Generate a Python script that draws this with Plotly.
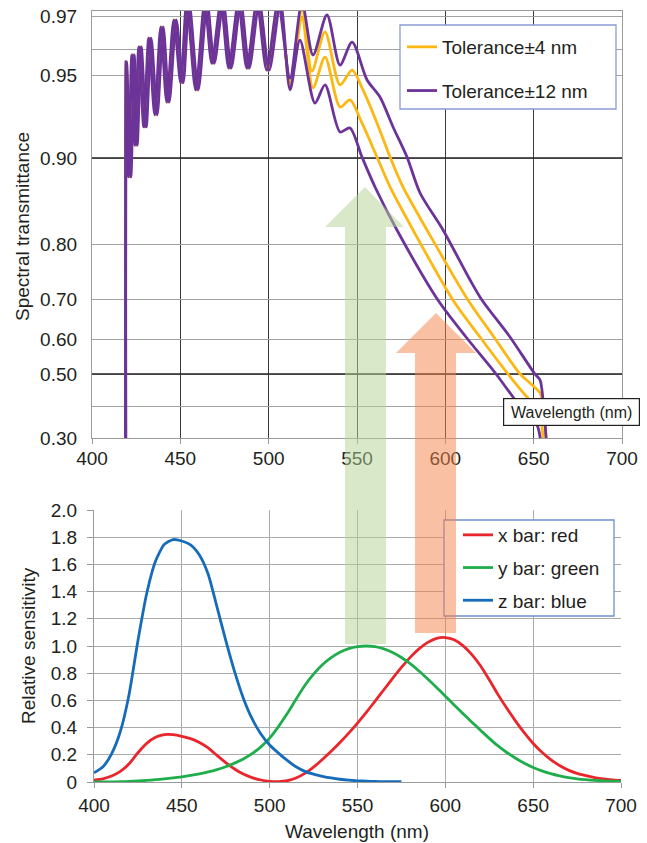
import numpy as np
import plotly.graph_objects as go

W, H = 647, 843
FONT = "Liberation Sans, Arial, sans-serif"
TXT = "#231f20"

# ---------------- Top panel: spectral transmittance ----------------
tol4_upper_nm = [419.0, 419.4, 421.3, 423.2, 424.9, 427.2, 430.0, 432.8, 436.2, 439.6, 443.0, 447.0,
                 450.9, 454.3, 459.4, 464.5, 468.5, 473.6, 478.1, 483.5, 488.3, 494.0, 499.6, 506.0,
                 512.1, 518.9, 524.5, 531.9, 540.4, 547.2, 553.4, 561.3, 568.7, 576.0, 589.6, 612.8,
                 627.5, 642.3, 647.9, 653.6, 655.5, 657.0, 657.5]
tol4_upper_T = [0.25, 0.955, 0.878, 0.9577, 0.9078, 0.9606, 0.9187, 0.9633, 0.9259, 0.9667, 0.9337, 0.9688,
                0.9452, 0.974, 0.941, 0.974, 0.9545, 0.974, 0.9527, 0.974, 0.9527, 0.974, 0.9519, 0.974,
                0.9458, 0.972, 0.9515, 0.9652, 0.944, 0.9519, 0.941, 0.9211, 0.9006, 0.8663, 0.8163, 0.6975,
                0.605, 0.50, 0.472, 0.4406, 0.40, 0.303, 0.25]

tol4_lower_nm = [419.0, 419.4, 421.3, 423.2, 424.9, 427.2, 430.0, 432.8, 436.2, 439.6, 443.0, 447.0,
                 450.9, 454.3, 459.4, 464.5, 468.5, 473.6, 478.1, 483.5, 488.3, 494.0, 499.6, 506.0,
                 512.1, 518.9, 525.1, 531.9, 540.4, 546.0, 552.8, 561.3, 568.7, 581.7, 604.3, 619.6,
                 635.5, 646.2, 651.9, 654.1, 655.3, 655.6]
tol4_lower_T = [0.25, 0.955, 0.878, 0.9577, 0.9078, 0.9606, 0.9187, 0.9633, 0.9259, 0.9667, 0.9337, 0.9688,
                0.9452, 0.974, 0.941, 0.974, 0.9545, 0.974, 0.9527, 0.974, 0.9527, 0.974, 0.9519, 0.974,
                0.9434, 0.9694, 0.9422, 0.9569, 0.9307, 0.935, 0.9211, 0.9006, 0.8663, 0.8163, 0.6975, 0.605,
                0.50, 0.4281, 0.394, 0.356, 0.303, 0.25]

tol12_upper_nm = [418.9, 419.2, 420.6, 422.5, 424.2, 426.5, 429.3, 432.1, 435.5, 438.9, 442.3, 446.3,
                  450.2, 453.6, 458.7, 463.8, 467.8, 472.9, 477.4, 482.8, 487.6, 493.3, 498.9, 505.3,
                  512.1, 518.9, 525.1, 533.0, 540.4, 547.2, 555.7, 563.0, 570.4, 578.3, 585.7, 598.7,
                  614.0, 620.7, 636.6, 650.7, 653.6, 655.3, 657.0, 657.5]
tol12_upper_T = [0.25, 0.955, 0.878, 0.9577, 0.9078, 0.9606, 0.9187, 0.9633, 0.9259, 0.9667, 0.9337, 0.9688,
                 0.9452, 0.974, 0.941, 0.974, 0.9545, 0.974, 0.9527, 0.974, 0.9527, 0.974, 0.9519, 0.974,
                 0.9482, 0.974, 0.9577, 0.9703, 0.9538, 0.9621, 0.947, 0.9367, 0.9187, 0.9006, 0.8593, 0.8163,
                 0.7345, 0.6975, 0.605, 0.50, 0.4813, 0.4188, 0.303, 0.25]

tol12_lower_nm = [419.2, 419.6, 422.0, 423.9, 425.6, 427.9, 430.7, 433.5, 436.9, 440.3, 443.7, 447.7,
                  451.6, 455.0, 460.1, 465.2, 469.2, 474.3, 478.8, 484.2, 489.0, 494.7, 500.3, 506.7,
                  512.1, 517.7, 526.2, 531.9, 540.4, 546.0, 552.8, 560.2, 572.6, 595.8, 611.7, 628.7,
                  638.3, 645.1, 651.9, 653.6, 654.0]
tol12_lower_T = [0.25, 0.955, 0.878, 0.9577, 0.9078, 0.9606, 0.9187, 0.9633, 0.9259, 0.9667, 0.9337, 0.9688,
                 0.9452, 0.974, 0.941, 0.974, 0.9545, 0.974, 0.9527, 0.974, 0.9527, 0.974, 0.9519, 0.974,
                 0.941, 0.9627, 0.9331, 0.944, 0.9157, 0.9181, 0.9006, 0.8663, 0.8163, 0.6975, 0.605, 0.50,
                 0.4281, 0.381, 0.34, 0.303, 0.25]

top_x_ticks = [400, 450, 500, 550, 600, 650, 700]
top_y_ticks = [0.30, 0.40, 0.50, 0.60, 0.70, 0.80, 0.90, 0.95, 0.96, 0.97]
top_y_labels = ["0.30", "", "0.50", "0.60", "0.70", "0.80", "0.90", "0.95", "", "0.97"]
top_y_bold = [0.90, 0.50]

# ---------------- Bottom panel: CIE colour-matching functions ----------------
cmf_nm = [400, 405, 410, 415, 420, 425, 430, 435, 440, 445, 450, 455, 460, 465, 470, 475, 480, 485,
          490, 495, 500, 505, 510, 515, 520, 525, 530, 535, 540, 545, 550, 555, 560, 565, 570, 575,
          580, 585, 590, 595, 600, 605, 610, 615, 620, 625, 630, 635, 640, 645, 650, 655, 660, 665,
          670, 675, 680, 685, 690, 695, 700]
x_bar = [0.0143, 0.0232, 0.0435, 0.0776, 0.1344, 0.2148, 0.2839, 0.3285, 0.3483, 0.3481, 0.3362, 0.3187,
         0.2908, 0.2511, 0.1954, 0.1421, 0.0956, 0.0580, 0.0320, 0.0147, 0.0049, 0.0024, 0.0093, 0.0291,
         0.0633, 0.1096, 0.1655, 0.2258, 0.2904, 0.3597, 0.4335, 0.5121, 0.5945, 0.6784, 0.7621, 0.8425,
         0.9163, 0.9786, 1.0263, 1.0567, 1.0622, 1.0456, 1.0026, 0.9384, 0.8545, 0.7514, 0.6424, 0.5419,
         0.4479, 0.3608, 0.2835, 0.2187, 0.1649, 0.1212, 0.0874, 0.0636, 0.0468, 0.0329, 0.0227, 0.0158,
         0.0114]
y_bar = [0.0004, 0.0006, 0.0012, 0.0022, 0.0040, 0.0073, 0.0116, 0.0168, 0.0230, 0.0298, 0.0380, 0.0480,
         0.0600, 0.0739, 0.0910, 0.1126, 0.1390, 0.1693, 0.2080, 0.2586, 0.3230, 0.4073, 0.5030, 0.6082,
         0.7100, 0.7932, 0.8620, 0.9149, 0.9540, 0.9803, 0.9950, 1.0000, 0.9950, 0.9786, 0.9520, 0.9154,
         0.8700, 0.8163, 0.7570, 0.6949, 0.6310, 0.5668, 0.5030, 0.4412, 0.3810, 0.3210, 0.2650, 0.2170,
         0.1750, 0.1382, 0.1070, 0.0816, 0.0610, 0.0446, 0.0320, 0.0232, 0.0170, 0.0119, 0.0082, 0.0057,
         0.0041]
z_nm = [400, 405, 410, 415, 420, 425, 430, 435, 440, 445, 450, 455, 460, 465, 470, 475, 480, 485,
        490, 495, 500, 505, 510, 515, 520, 525, 530, 535, 540, 545, 550, 555, 560, 565, 570, 575]
z_bar = [0.0679, 0.1102, 0.2074, 0.3713, 0.6456, 1.0391, 1.3856, 1.6230, 1.7471, 1.7826, 1.7721, 1.7441,
         1.6692, 1.5281, 1.2876, 1.0419, 0.8130, 0.6162, 0.4652, 0.3533, 0.2720, 0.2123, 0.1582, 0.1117,
         0.0783, 0.0573, 0.0422, 0.0298, 0.0203, 0.0134, 0.0088, 0.0058, 0.0039, 0.0028, 0.0021, 0.0018]
bottom_x_ticks = [400, 450, 500, 550, 600, 650, 700]
bottom_y_ticks = [0, 0.2, 0.4, 0.6, 0.8, 1.0, 1.2, 1.4, 1.6, 1.8, 2.0]
bottom_y_labels = ["0", "0.2", "0.4", "0.6", "0.8", "1.0", "1.2", "1.4", "1.6", "1.8", "2.0"]

# Non-linear transmittance scale of the original chart (value -> axis position)
SCALE_T = [0.25, 0.30, 0.40, 0.50, 0.60, 0.70, 0.80, 0.90, 0.95, 0.96, 0.97, 0.98]
SCALE_POS = [-16, 0, 32, 64, 99, 139, 194, 280, 363, 389, 422, 455]


def tpos(v):
    return np.interp(np.asarray(v, dtype=float), SCALE_T, SCALE_POS)


def px(x, y):
    return x / W, 1 - y / H


YELLOW = "#fbb814"
PURPLE = "#6c3399"
RED = "#e8262b"
GREEN = "#1fae4b"
BLUE = "#166cb8"
FS = 19

fig = go.Figure()

# bold reference lines of the top panel
for v in top_y_bold:
    fig.add_trace(go.Scatter(x=[400, 700], y=[float(tpos(v))] * 2, mode="lines",
                             line=dict(color=TXT, width=1.6), showlegend=False, hoverinfo="skip",
                             xaxis="x", yaxis="y"))

top_series = [
    (tol4_upper_nm, tol4_upper_T, YELLOW, "Tolerance±4 nm", True, "g4"),
    (tol4_lower_nm, tol4_lower_T, YELLOW, "Tolerance±4 nm", False, "g4"),
    (tol12_upper_nm, tol12_upper_T, PURPLE, "Tolerance±12 nm", True, "g12"),
    (tol12_lower_nm, tol12_lower_T, PURPLE, "Tolerance±12 nm", False, "g12"),
]
for xs, ts, col, name, show, grp in top_series:
    fig.add_trace(go.Scatter(x=xs, y=tpos(ts), mode="lines", name=name, legendgroup=grp,
                             showlegend=show, legend="legend",
                             line=dict(color=col, width=2.8, shape="spline", smoothing=0.8),
                             xaxis="x", yaxis="y"))

for xs, ys, col, name, grp in [(cmf_nm, x_bar, RED, "x bar: red", "r"),
                               (cmf_nm, y_bar, GREEN, "y bar: green", "gr"),
                               (z_nm, z_bar, BLUE, "z bar: blue", "b")]:
    fig.add_trace(go.Scatter(x=xs, y=ys, mode="lines", name=name, legendgroup=grp, legend="legend2",
                             line=dict(color=col, width=2.8, shape="spline", smoothing=0.6),
                             xaxis="x2", yaxis="y2"))

top_dom_x = [92 / W, 622 / W]
top_dom_y = [1 - 438 / H, 1 - 11 / H]
bot_dom_x = [94 / W, 621 / W]
bot_dom_y = [1 - 782 / H, 1 - 510 / H]

tickfont = dict(family=FONT, size=FS, color=TXT)

fig.update_layout(
    width=W, height=H, autosize=False,
    margin=dict(l=0, r=0, t=0, b=0, pad=0, autoexpand=False),
    paper_bgcolor="white", plot_bgcolor="white",
    font=dict(family=FONT, size=FS, color=TXT),
    xaxis=dict(domain=top_dom_x, range=[400, 700], anchor="y", tickvals=top_x_ticks,
               showgrid=True, gridcolor="#3a3a3a", gridwidth=1, automargin=False,
               showline=True, linecolor="#9a9a9a", linewidth=1.2, mirror=True,
               ticks="outside", ticklen=5, tickcolor="#9a9a9a", tickfont=tickfont,
               ticklabelstandoff=-2, zeroline=False),
    yaxis=dict(domain=top_dom_y, range=[0, 427], anchor="x", automargin=False,
               tickvals=list(tpos(top_y_ticks)), ticktext=top_y_labels,
               showgrid=True, gridcolor="#a3a3a3", gridwidth=1.2,
               showline=True, linecolor="#9a9a9a", linewidth=1.2, mirror=True,
               ticks="", tickfont=tickfont, ticklabelstandoff=10, zeroline=False),
    xaxis2=dict(domain=bot_dom_x, range=[400, 700], anchor="y2", tickvals=bottom_x_ticks,
                showgrid=True, gridcolor="#ababab", gridwidth=1, automargin=False,
                showline=True, linecolor="#9a9a9a", linewidth=1.2,
                ticks="outside", ticklen=5, tickcolor="#9a9a9a", tickfont=tickfont,
                ticklabelstandoff=1, zeroline=False),
    yaxis2=dict(domain=bot_dom_y, range=[0, 2.0], anchor="x2", automargin=False,
                tickvals=bottom_y_ticks, ticktext=bottom_y_labels,
                showgrid=True, gridcolor="#ababab", gridwidth=1,
                showline=True, linecolor="#9a9a9a", linewidth=1.2,
                ticks="outside", ticklen=6, tickcolor="#9a9a9a", tickfont=tickfont,
                ticklabelstandoff=6, zeroline=False),
    legend=dict(x=402 / W, y=1 - 28 / H, xanchor="left", yanchor="top",
                bgcolor="rgba(0,0,0,0)", borderwidth=0, traceorder="grouped",
                tracegroupgap=16, font=dict(family=FONT, size=FS, color=TXT)),
    legend2=dict(x=458 / W, y=1 - 516 / H, xanchor="left", yanchor="top",
                 bgcolor="rgba(0,0,0,0)", borderwidth=0, traceorder="grouped",
                 tracegroupgap=5, font=dict(family=FONT, size=FS, color=TXT)),
)

shapes = []
# legend frames
x0, y1 = px(400, 25)
x1, y0 = px(616, 109)
shapes.append(dict(type="rect", xref="paper", yref="paper", x0=x0, x1=x1, y0=y0, y1=y1,
                   line=dict(color="#8d9bd6", width=1.3), fillcolor="white", layer="above"))
x0, y1 = px(444, 520)
x1, y0 = px(614, 616)
shapes.append(dict(type="rect", xref="paper", yref="paper", x0=x0, x1=x1, y0=y0, y1=y1,
                   line=dict(color="#6f8fd0", width=1.3), fillcolor="white", layer="above"))


def arrow_path(sl, sr, bottom, hl, hr, hy, tip_x, tip_y):
    pts = [(sl, bottom), (sl, hy), (hl, hy), (tip_x, tip_y), (hr, hy), (sr, hy), (sr, bottom)]
    p = []
    for i, (a, b) in enumerate(pts):
        u, v = px(a, b)
        p.append(("M" if i == 0 else "L") + f"{u:.5f},{v:.5f}")
    return " ".join(p) + " Z"


shapes.append(dict(type="path", xref="paper", yref="paper",
                   path=arrow_path(345, 386, 644, 325, 404, 227, 365, 187),
                   fillcolor="#b3d193", line=dict(width=0), opacity=0.5, layer="above"))
shapes.append(dict(type="path", xref="paper", yref="paper",
                   path=arrow_path(415, 456, 633, 396, 476, 353, 436, 313),
                   fillcolor="#f38147", line=dict(width=0), opacity=0.5, layer="above"))
fig.update_layout(shapes=shapes)

ann = []
ax, ay = px(22, 227)
ann.append(dict(text="Spectral transmittance", x=ax, y=ay, xref="paper", yref="paper",
                xanchor="center", yanchor="middle",
                textangle=-90, showarrow=False, font=dict(family=FONT, size=FS, color=TXT)))
ax, ay = px(28, 646)
ann.append(dict(text="Relative sensitivity", x=ax, y=ay, xref="paper", yref="paper",
                xanchor="center", yanchor="middle",
                textangle=-90, showarrow=False, font=dict(family=FONT, size=FS, color=TXT)))
ax, ay = px(357, 831)
ann.append(dict(text="Wavelength (nm)", x=ax, y=ay, xref="paper", yref="paper",
                xanchor="center", yanchor="middle",
                showarrow=False, font=dict(family=FONT, size=FS, color=TXT)))
ax, ay = px(571.5, 411.5)
ann.append(dict(text="Wavelength (nm)", x=ax, y=ay, xref="paper", yref="paper",
                xanchor="center", yanchor="middle",
                showarrow=False, font=dict(family=FONT, size=16, color=TXT),
                bgcolor="white", bordercolor=TXT, borderwidth=1.2, borderpad=4,
                width=127, height=18))
fig.update_layout(annotations=ann)

fig.write_html("out.html")
